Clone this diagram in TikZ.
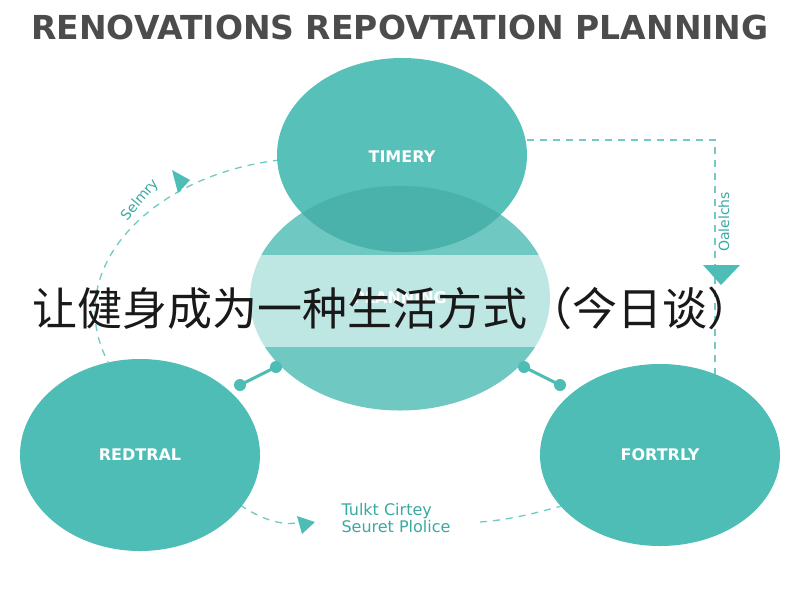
\documentclass[tikz,border=0pt]{standalone}
\usepackage{fontspec}
\setmainfont{DejaVu Sans}
\newfontfamily\cjk{Noto Sans CJK SC}
\usetikzlibrary{shapes.geometric}
\definecolor{teal1}{HTML}{4DBDB6}
\definecolor{teal2}{HTML}{70C8C3}
\definecolor{tealT}{HTML}{3AA9A3}
\begin{document}
\begin{tikzpicture}[x=1pt,y=-1pt,
  circ/.style={ellipse,draw=none,text=white,font=\bfseries\fontsize{16}{18}\selectfont},
  dline/.style={draw=teal1!80,line width=1.3pt,dash pattern=on 7pt off 6pt},
  lbl/.style={text=tealT,font=\fontsize{14}{16}\selectfont},
  tri/.style={fill=teal1,draw=none}]
\useasboundingbox (0,0) rectangle (800,600);
\fill[white] (0,0) rectangle (800,600);
\node[font=\bfseries\fontsize{33}{36}\selectfont,text=black!70,xscale=1.0] (title) at (400,27) {RENOVATIONS REPOVTATION PLANNING};
% dashed paths
\coordinate (a1) at (280,160);
\coordinate (a2) at (108,362);
\draw[dline] (a1) .. controls (150,175) and (60,270) .. (a2);
\coordinate (b1) at (527,140);
\coordinate (b2) at (715,140);
\coordinate (b3) at (715,400);
\draw[dline] (b1) -- (b2) -- (b3);
\coordinate (c1) at (240,505);
\coordinate (c2) at (565,505);
\draw[dline] (c1) .. controls (270,525) and (290,525) .. (300,522);
\draw[dline] (480,522) .. controls (510,520) and (540,512) .. (c2);
% circles
\node[circ,fill=teal2,minimum width=300pt,minimum height=225pt] (mid) at (400,298) {PLANNING};
\node[circ,fill=teal1,fill opacity=0.95,text opacity=1,minimum width=250pt,minimum height=194pt] (top) at (402,155) {};
\begin{scope}
\clip (400,298) ellipse (150pt and 112pt);
\fill[teal1!80!black!95,opacity=0.35] (402,155) ellipse (125pt and 97pt);
\end{scope}
\node[circ] at (402,157) {TIMERY};
\node[circ,fill=teal1,minimum width=240pt,minimum height=192pt] (left) at (140,455) {REDTRAL};
\node[circ,fill=teal1,minimum width=240pt,minimum height=182pt] (right) at (660,455) {FORTRLY};
% connectors
\coordinate (d1) at (240,385); \coordinate (d2) at (276,367);
\coordinate (d3) at (524,367); \coordinate (d4) at (560,385);
\draw[teal1,line width=3pt] (d1) -- (d2);
\draw[teal1,line width=3pt] (d3) -- (d4);
\foreach \p in {d1,d2,d3,d4} \fill[teal1] (\p) circle (6pt);
% triangles
\fill[tri] (172,170) -- (190,180) -- (178,193) -- cycle;
\fill[tri] (703,265) -- (740,265) -- (721,285) -- cycle;
\fill[tri] (297,516) -- (315,522) -- (302,534) -- cycle;
% labels
\node[lbl,rotate=50] (l1) at (140,200) {Selmry};
\node[lbl,rotate=90] (l2) at (724,222) {Oalelchs};
\node[lbl,align=left,font=\fontsize{16}{17}\selectfont] (l3) at (396,518) {Tulkt Cirtey\\Seuret Plolice};
% banner
\fill[white,opacity=0.55] (250,255) rectangle (550,347);
\node[font=\cjk\fontsize{45}{48}\selectfont,text=black!90] (ban) at (392,308) {让健身成为一种生活方式（今日谈）};
\end{tikzpicture}
\end{document}
